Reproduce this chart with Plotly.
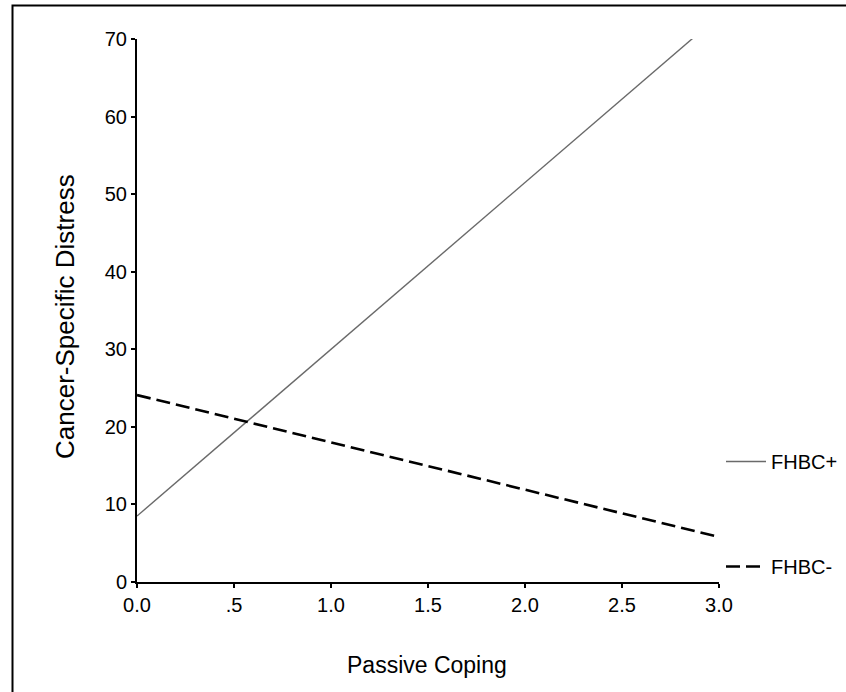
import plotly.graph_objects as go

# Data
passive_coping = [0.0, 3.0]
fhbc_pos = [8.5, 73.0]
fhbc_neg = [24.1, 5.8]
x_tickvals = [0.0, 0.5, 1.0, 1.5, 2.0, 2.5, 3.0]
x_ticktext = ["0.0", ".5", "1.0", "1.5", "2.0", "2.5", "3.0"]
y_tickvals = [0, 10, 20, 30, 40, 50, 60, 70]

W, H = 846, 692
L, R, T, B = 137, 127, 39, 110
pw, ph = W - L - R, H - T - B

FONT = "Liberation Sans, Arial, sans-serif"

fig = go.Figure()
fig.add_trace(go.Scatter(
    x=passive_coping, y=fhbc_pos, mode="lines", name="FHBC+",
    legendgroup="pos",
    line=dict(color="#6a6a6a", width=1.4),
))
fig.add_trace(go.Scatter(
    x=passive_coping, y=fhbc_neg, mode="lines", name="FHBC-",
    legendgroup="neg",
    line=dict(color="black", width=2.6, dash="14px,6px"),
))

def px_x(p):
    return (p - L) / pw

def px_y(p):
    return (H - B - p) / ph

fig.update_layout(
    width=W, height=H,
    margin=dict(l=L, r=R, t=T, b=B, autoexpand=False),
    paper_bgcolor="white", plot_bgcolor="white",
    font=dict(family=FONT, color="black", size=20),
    showlegend=True,
    legend=dict(
        x=px_x(721), y=px_y(442), xanchor="left", yanchor="top",
        font=dict(size=20, family=FONT),
        bgcolor="rgba(0,0,0,0)", tracegroupgap=76,
        traceorder="grouped", itemwidth=40,
    ),
    xaxis=dict(
        range=[0, 3], tickvals=x_tickvals, ticktext=x_ticktext,
        showline=True, linecolor="black", linewidth=2,
        ticks="outside", ticklen=4, tickwidth=2, tickcolor="black",
        showgrid=False, zeroline=False, tickfont=dict(size=20, family=FONT),
        automargin=False,
    ),
    yaxis=dict(
        range=[0, 70], tickvals=y_tickvals,
        showline=True, linecolor="black", linewidth=2,
        ticks="outside", ticklen=4, tickwidth=2, tickcolor="black",
        showgrid=False, zeroline=False, tickfont=dict(size=20, family=FONT),
        automargin=False,
    ),
    annotations=[
        dict(text="Passive Coping", xref="paper", yref="paper",
             x=px_x(427), y=px_y(665), xanchor="center", yanchor="middle",
             showarrow=False, font=dict(size=23, family=FONT)),
        dict(text="Cancer-Specific Distress", xref="paper", yref="paper",
             x=px_x(65), y=px_y(317), xanchor="center", yanchor="middle",
             textangle=-90, showarrow=False, font=dict(size=26, family=FONT)),
    ],
    shapes=[
        dict(type="rect", xref="paper", yref="paper",
             x0=px_x(12.5), x1=px_x(860), y0=px_y(710), y1=px_y(5.5),
             line=dict(color="black", width=2), fillcolor="rgba(0,0,0,0)",
             layer="below"),
    ],
)

fig.write_html("out.html")
